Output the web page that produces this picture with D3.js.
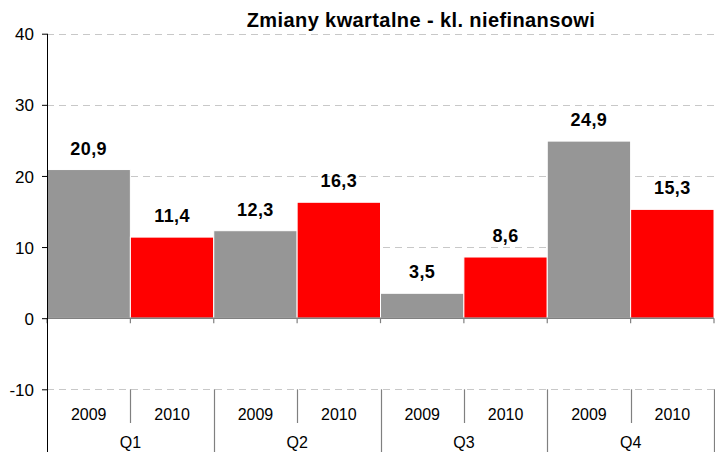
<!DOCTYPE html>
<html lang="pl">
<head>
<meta charset="utf-8">
<title>Zmiany kwartalne - kl. niefinansowi</title>
<style>
  body { margin: 0; background: #fff; }
  text { font-family: Arial, "Liberation Sans", sans-serif; fill: #000; }
  .title { font-size: 20px; font-weight: bold; text-anchor: middle; letter-spacing: 0.4px; }
  .val { font-size: 18px; font-weight: bold; text-anchor: middle; letter-spacing: 0.4px; }
  .cat { font-size: 16px; text-anchor: middle; }
  .grid { stroke: #c8c8c8; stroke-width: 1; stroke-dasharray: 7, 5; shape-rendering: crispEdges; }
</style>
</head>
<body>
<div id="chart"></div>
<script src="https://cdn.jsdelivr.net/npm/d3@7"></script>
<script>

// data
var quarters = ["Q1", "Q2", "Q3", "Q4"];
var years = ["2009", "2010"];
var values2009 = [20.9, 12.3, 3.5, 24.9];
var values2010 = [11.4, 16.3, 8.6, 15.3];
var yTicks = [-10, 0, 10, 20, 30, 40];
var title = "Zmiany kwartalne - kl. niefinansowi";

var W = 715, H = 452;
var left = 47, right = 714;

var svg = d3.select("#chart").append("svg")
    .attr("width", W)
    .attr("height", H);

var y = d3.scaleLinear().domain([-10, 40]).range([389.3, 33.7]);
var xQ = d3.scaleBand().domain(quarters).range([left, right]).padding(0);
var xY = d3.scaleBand().domain(years).range([0, xQ.bandwidth()]).padding(0);

var colors = { "2009": "#969696", "2010": "#ff0000" };

// flat rows for bars
var rows = [];
quarters.forEach(function(q, i) {
    rows.push({ q: q, year: "2009", v: values2009[i] });
    rows.push({ q: q, year: "2010", v: values2010[i] });
});

// gridlines (not at 0)
svg.append("g").selectAll("line")
    .data(yTicks.filter(function(d) { return d !== 0; }))
    .enter().append("line")
    .attr("class", "grid")
    .attr("x1", left).attr("x2", W)
    .attr("y1", function(d) { return Math.round(y(d)) + 0.5; })
    .attr("y2", function(d) { return Math.round(y(d)) + 0.5; });

// bars
svg.append("g").selectAll("rect")
    .data(rows)
    .enter().append("rect")
    .attr("x", function(d) { return xQ(d.q) + xY(d.year); })
    .attr("width", xY.bandwidth())
    .attr("y", function(d) { return y(d.v); })
    .attr("height", function(d) { return y(0) - y(d.v); })
    .style("fill", function(d) { return colors[d.year]; })
    .style("stroke", "#fff")
    .style("stroke-width", 1);

// value labels
svg.append("g").selectAll("text")
    .data(rows)
    .enter().append("text")
    .attr("class", "val")
    .attr("x", function(d) { return xQ(d.q) + xY(d.year) + xY.bandwidth() / 2; })
    .attr("y", function(d) { return y(d.v) - 15; })
    .text(function(d) { return d.v.toFixed(1).replace(".", ","); });

// zero line with small ticks at boundaries
var bounds = [];
quarters.forEach(function(q) {
    years.forEach(function(yr) { bounds.push(xQ(q) + xY(yr)); });
});
bounds.push(right);

svg.append("line")
    .attr("x1", left).attr("x2", right)
    .attr("y1", y(0)).attr("y2", y(0))
    .style("stroke", "#808080")
    .style("stroke-width", 1.5);

svg.append("g").selectAll("line")
    .data(bounds)
    .enter().append("line")
    .attr("x1", function(d) { return d; })
    .attr("x2", function(d) { return d; })
    .attr("y1", y(0)).attr("y2", y(0) + 5)
    .style("stroke", "#808080")
    .style("stroke-width", 1.2);

// category separators below the -10 line
var sep = [];
quarters.forEach(function(q, i) {
    if (i > 0) sep.push({ x: xQ(q), long: true });
    sep.push({ x: xQ(q) + xY("2010"), long: false });
});
sep.push({ x: right, long: true });

svg.append("g").selectAll("line")
    .data(sep)
    .enter().append("line")
    .attr("x1", function(d) { return Math.round(d.x) + 0.5; })
    .attr("x2", function(d) { return Math.round(d.x) + 0.5; })
    .attr("y1", y(-10))
    .attr("y2", function(d) { return d.long ? H : 423; })
    .style("stroke", "#808080")
    .style("stroke-width", 1.2);

// year labels
svg.append("g").selectAll("text")
    .data(rows)
    .enter().append("text")
    .attr("class", "cat")
    .attr("x", function(d) { return xQ(d.q) + xY(d.year) + xY.bandwidth() / 2; })
    .attr("y", 420)
    .text(function(d) { return d.year; });

// quarter labels
svg.append("g").selectAll("text")
    .data(quarters)
    .enter().append("text")
    .attr("class", "cat")
    .attr("x", function(d) { return xQ(d) + xQ.bandwidth() / 2; })
    .attr("y", 448)
    .text(function(d) { return d; });

// y axis
var yAxis = d3.axisLeft(y)
    .tickValues(yTicks)
    .tickFormat(function(d) { return String(d); })
    .tickSize(5)
    .tickPadding(8);
var ya = svg.append("g")
    .attr("transform", "translate(" + left + ",0)")
    .call(yAxis);
ya.select(".domain").remove();
ya.selectAll(".tick line").style("stroke", "#000");
ya.selectAll(".tick text")
    .attr("dy", "0.36em")
    .style("fill", "#000")
    .style("font-size", "17px")
    .style("font-family", "Arial, 'Liberation Sans', sans-serif");

svg.append("line")
    .attr("x1", left + 0.5).attr("x2", left + 0.5)
    .attr("y1", y(40)).attr("y2", H)
    .style("stroke", "#000")
    .style("stroke-width", 1);

// title
svg.append("text")
    .attr("class", "title")
    .attr("x", 421)
    .attr("y", 27)
    .text(title);

</script>
</body>
</html>
